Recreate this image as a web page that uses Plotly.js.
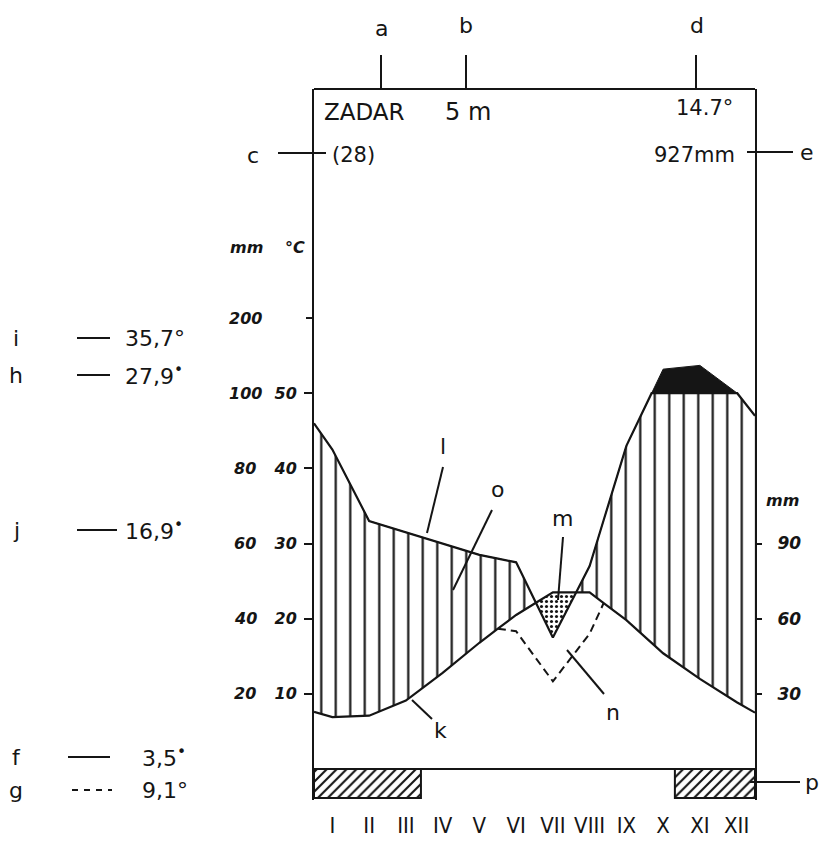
<!DOCTYPE html>
<html><head><meta charset="utf-8">
<script src="https://cdn.plot.ly/plotly-3.0.1.min.js"></script>
<style>body{margin:0;background:#fff}#chart{width:828px;height:843px}</style>
</head><body><div id="chart"></div>
<script>
// ---------- data ----------
const months = ['I','II','III','IV','V','VI','VII','VIII','IX','X','XI','XII'];
const monthPos = [1,2,3,4,5,6,7,8,9,10,11,12];
const tempC = [6.9, 7.1, 9.1, 12.8, 16.8, 20.5, 23.5, 23.5, 19.8, 15.4, 12.0, 8.9];
const precipMm = [85, 66, 63, 60, 57, 55, 35, 54, 86, 132, 137, 101];
const tempEdge = [7.6, 7.5];      // curve value where it meets left / right frame
const precipEdge = [92, 94];
const frostFrom = [0.5, 10.32];
const frostTo = [3.41, 12.5];
const tickC = [10, 20, 30, 40, 50];
const tickMmLeftVals = [10, 20, 30, 40, 50, 60];
const tickMmLeft = ['20', '40', '60', '80', '100', '200'];
const tickMmRightVals = [30, 60, 90];
const tickMmRight = ['30', '60', '90'];
const stationName = 'ZADAR', stationAlt = '5 m', stationYears = '(28)';
const meanTemp = '14.7°', annualPrecip = '927mm';
const legendKeys = ['i', 'h', 'j', 'f', 'g'];
const legendVals = ['35,7°', '27,9<sup>•</sup>', '16,9<sup>•</sup>', '3,5<sup>•</sup>', '9,1°'];

// ---------- scales ----------
const toDisp = mm => mm <= 100 ? mm / 2 : 50 + (mm - 100) / 10;   // mm -> °C-axis units
const Y1 = 90.47, Y0 = -4.12, BOX = -3.86;

const g0 = {
  x: [0.5].concat(monthPos, [12.5]),
  T: [tempEdge[0]].concat(tempC, [tempEdge[1]]),
  P: [precipEdge[0]].concat(precipMm, [precipEdge[1]]).map(toDisp),
  D: [precipEdge[0]].concat(precipMm, [precipEdge[1]]).map(m => m / 3),
};
g0.C = g0.x.map(() => 50);
function insertCrossings(g, a, b) {
  const keys = Object.keys(g), out = {}; keys.forEach(k => out[k] = []);
  const n = g.x.length;
  for (let i = 0; i < n; i++) {
    keys.forEach(k => out[k].push(g[k][i]));
    if (i < n - 1) {
      const d0 = g[a][i] - g[b][i], d1 = g[a][i + 1] - g[b][i + 1];
      if (d0 * d1 < 0) {
        const t = d0 / (d0 - d1);
        keys.forEach(k => out[k].push(g[k][i] + t * (g[k][i + 1] - g[k][i])));
      }
    }
  }
  return out;
}
let g = insertCrossings(g0, 'P', 'C');
g = insertCrossings(g, 'P', 'T');
g = insertCrossings(g, 'D', 'T');
const X = g.x;
const Pc = g.P.map(v => Math.min(v, 50));
const hatchTop = g.T.map((t, i) => Math.max(t, Pc[i]));
const stipLow = g.T.map((t, i) => Math.min(t, g.P[i]));
const dryLine = g.D.map((d, i) => d <= g.T[i] + 1e-9 ? d * 3 : null); // mm on right axis

const INK = '#151515';
const base = {x: X, mode: 'lines', hoverinfo: 'skip', showlegend: false};
const traces = [
  Object.assign({}, base, {y: g.T, line: {width: 0}}),
  Object.assign({}, base, {y: hatchTop, line: {width: 0}, fill: 'tonexty', fillcolor: 'rgba(255,255,255,0)',
    fillpattern: {shape: '|', size: 14.5, solidity: 0.15, fgcolor: INK, bgcolor: 'white'}}),
  Object.assign({}, base, {y: stipLow, line: {width: 0}}),
  Object.assign({}, base, {y: g.T, line: {width: 0}, fill: 'tonexty', fillcolor: 'rgba(255,255,255,0)',
    fillpattern: {shape: '.', size: 5, solidity: 0.3, fgcolor: INK, bgcolor: 'white'}}),
  Object.assign({}, base, {y: Pc, line: {width: 0}}),
  Object.assign({}, base, {y: g.P, line: {width: 1, color: INK}, fill: 'tonexty', fillcolor: INK}),
  Object.assign({}, base, {y: dryLine, yaxis: 'y2', line: {width: 2, color: INK, dash: '8px,5px'}, connectgaps: false}),
  Object.assign({}, base, {y: g.T, line: {width: 2.2, color: INK}}),
  Object.assign({}, base, {y: Pc, line: {width: 2.2, color: INK}}),
];
frostFrom.forEach((a, i) => {
  const b = frostTo[i];
  traces.push({x: [a, b, b, a, a], y: [0, 0, BOX, BOX, 0], mode: 'lines', hoverinfo: 'skip', showlegend: false,
    line: {width: 2, color: INK}, fill: 'toself', fillcolor: 'rgba(255,255,255,0)',
    fillpattern: {shape: '/', size: 7, solidity: 0.3, fgcolor: INK, bgcolor: 'white'}});
});

// ---------- decorations ----------
const FONT = 'DejaVu Sans, sans-serif';
const NUMF = {family: 'DejaVu Sans, sans-serif', size: 16, color: INK, style: 'italic', weight: 'bold'};
const PX = p => (p - 314) / 441, PY = p => (800 - p) / 711;
function label(text, px, py, size, extra) {
  return Object.assign({text, x: PX(px), y: PY(py), xref: 'paper', yref: 'paper', showarrow: false,
    xanchor: 'center', yanchor: 'middle', font: {family: FONT, size, color: INK}}, extra || {});
}
function seg(x0, y0, x1, y1, dash) {
  return {type: 'line', xref: 'paper', yref: 'paper', x0: PX(x0), y0: PY(y0), x1: PX(x1), y1: PY(y1),
    line: {color: INK, width: 2, dash: dash || 'solid'}};
}
const annotations = [
  label('a', 381, 28, 22), label('b', 466, 26, 22), label('d', 697, 26, 22),
  label(stationName, 322, 112, 23, {xanchor: 'left'}),
  label(stationAlt, 443, 112, 24, {xanchor: 'left'}),
  label(meanTemp, 735, 108, 21, {xanchor: 'right'}),
  label(stationYears, 330, 155, 21, {xanchor: 'left'}),
  label(annualPrecip, 737, 155, 21, {xanchor: 'right'}),
  label('c', 253, 155, 22), label('e', 807, 152, 22), label('p', 812, 782, 22),
  label('mm', 246, 247, 16, {font: NUMF}), label('°C', 295, 247, 16, {font: NUMF}),
  label('mm', 782, 500, 15, {font: NUMF}),
  label('l', 443, 447, 22), label('o', 497, 490, 22), label('m', 562, 518, 22),
  label('n', 613, 712, 22), label('k', 440, 730, 22),
];
tickMmLeftVals.forEach((v, i) => annotations.push({text: tickMmLeft[i], x: PX(245), y: v, xref: 'paper', yref: 'y',
  showarrow: false, xanchor: 'center', yanchor: 'middle', font: NUMF}));
const legY = [338, 375, 530, 757, 790];
legendKeys.forEach((k, i) => {
  annotations.push(label(k, 16, legY[i], 22));
  annotations.push(label(legendVals[i], i >= 3 ? 140 : 123, legY[i], 22, {xanchor: 'left'}));
});
const shapes = [
  {type: 'line', xref: 'paper', yref: 'paper', x0: 0, x1: 1, y0: 1, y1: 1, line: {color: INK, width: 2}},
  {type: 'line', xref: 'paper', yref: 'y', x0: 0, x1: 1, y0: 0, y1: 0, line: {color: INK, width: 2}},
  {type: 'line', xref: 'paper', yref: 'y', x0: -8 / 441, x1: 0, y0: 60, y1: 60, line: {color: INK, width: 2}},
  seg(381, 55, 381, 89), seg(466, 55, 466, 89), seg(696, 55, 696, 89),
  seg(278, 153, 326, 153), seg(747, 152, 793, 152), seg(750, 782, 800, 782),
  seg(443, 467, 427, 533), seg(492, 510, 453, 590), seg(563, 537, 558, 600),
  seg(567, 650, 604, 694), seg(412, 700, 432, 719),
  seg(77, 338, 110, 338), seg(77, 375, 110, 375), seg(77, 530, 117, 530),
  seg(68, 757, 110, 757), seg(72, 790, 112, 790, '6px,6px'),
];

const layout = {
  width: 828, height: 843, margin: {l: 314, r: 73, t: 89, b: 43, pad: 0},
  paper_bgcolor: 'white', plot_bgcolor: 'white', showlegend: false,
  xaxis: {range: [0.5, 12.5], showgrid: false, zeroline: false, showline: false, fixedrange: true,
    tickvals: monthPos, ticktext: months, ticks: '', ticklabelstandoff: 10,
    tickfont: {family: 'Liberation Sans Narrow, DejaVu Sans Condensed, sans-serif', size: 22, color: INK}},
  yaxis: {range: [Y0, Y1], showgrid: false, zeroline: false, showline: true, mirror: true, linecolor: INK, linewidth: 2,
    tickvals: tickC, ticktext: tickC.map(String), ticks: 'outside', ticklen: 8,
    tickwidth: 2, tickcolor: INK, ticklabelstandoff: 4, tickfont: NUMF, fixedrange: true},
  yaxis2: {overlaying: 'y', side: 'right', anchor: 'x', range: [Y0 * 3, Y1 * 3], showgrid: false, zeroline: false,
    showline: false, tickvals: tickMmRightVals, ticktext: tickMmRight, ticks: 'outside', ticklen: 6, tickwidth: 2,
    tickcolor: INK, ticklabelstandoff: 12, tickfont: Object.assign({}, NUMF, {size: 17}), fixedrange: true},
  annotations, shapes,
};
Plotly.newPlot('chart', traces, layout, {staticPlot: true, displayModeBar: false});
</script></body></html>
